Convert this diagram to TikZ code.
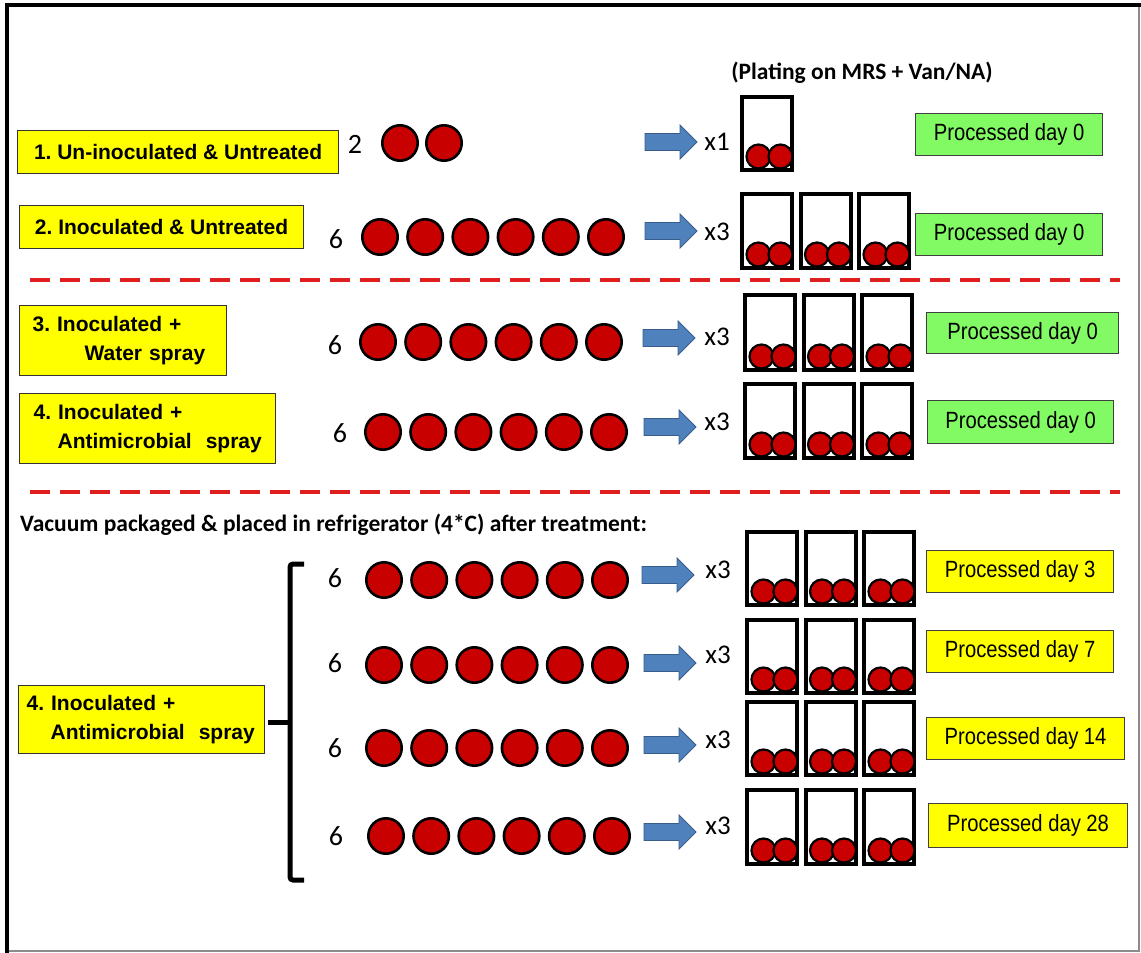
\documentclass[tikz,border=0pt]{standalone}
\usepackage{fontspec}
\setmainfont{Liberation Sans}
\newfontfamily\calfont{Carlito}
\frenchspacing
\definecolor{ylw}{RGB}{255,255,0}
\definecolor{grn}{RGB}{130,250,100}
\definecolor{cred}{RGB}{200,0,0}
\definecolor{dred}{RGB}{225,30,30}
\definecolor{ablue}{RGB}{79,129,189}
\definecolor{ablueD}{RGB}{56,93,138}
\tikzset{
  lbl/.style={draw=black!80, line width=1.2pt, fill=ylw, inner sep=0pt, anchor=north west,
    font=\fontsize{21}{29}\selectfont\bfseries},
  proc/.style={draw=black!75, line width=1.2pt, inner sep=0pt, anchor=north west},
  cnt/.style={font=\calfont\fontsize{28}{30}\selectfont, inner sep=0pt},
  xlab/.style={font=\calfont\fontsize{27}{30}\selectfont, inner sep=0pt},
  hdr/.style={font=\calfont\bfseries\fontsize{23.5}{26}\selectfont, inner sep=0pt},
  sample/.style={fill=cred, draw=black, line width=2.6pt},
  platebox/.style={draw=black, line width=4pt},
  sep/.style={draw=dred, line width=4.5pt, dash pattern=on 20pt off 10pt},
  blockarrow/.style={fill=ablue, draw=ablueD, line width=0.8pt},
}
\newcommand{\proctext}[1]{\scalebox{0.86}[1]{\fontsize{23.5}{26}\selectfont #1}}
% block arrow: left end x, centre y
\newcommand{\blockarr}[2]{%
  \filldraw[blockarrow] (#1,#2-8.5) -- (#1+35,#2-8.5) -- (#1+35,#2-17) -- (#1+52,#2)
    -- (#1+35,#2+17) -- (#1+35,#2+8.5) -- (#1,#2+8.5) -- cycle;}
% one plate: left x, top y, bottom y
\newcommand{\oneplate}[3]{%
  \draw[platebox] (#1+2,#2+2) rectangle (#1+52,#3-2);
  \draw[fill=cred, draw=black, line width=2.2pt] (#1+18.5,#3-15.5) circle (12);
  \draw[fill=cred, draw=black, line width=2.2pt] (#1+40.5,#3-15.5) circle (12);}
% three plates: first left x, top y, bottom y
\newcommand{\threeplates}[3]{%
  \oneplate{#1}{#2}{#3}\oneplate{#1+58.5}{#2}{#3}\oneplate{#1+117}{#2}{#3}}
% six samples: first centre x, y
\newcommand{\sixsamples}[2]{%
  \foreach \i in {0,...,5}{\draw[sample] (#1+45.2*\i,#2) circle (17.7);}}
\begin{document}
\begin{tikzpicture}[x=1pt,y=-1pt]
\useasboundingbox (0,0) rectangle (1141,953);
% frame
\draw[black!45, line width=1.5pt] (1139,5) -- (1139,951) -- (7,951);
\draw[black, line width=4pt] (7,953) -- (7,5) -- (1141,5);

% header
\node[hdr] (plating) at (862,73) {(Plating on MRS + Van/NA)};

% row 1
\node[lbl, minimum width=321pt, minimum height=43pt] (g1) at (17,130) {1. Un-inoculated \& Untreated};
\node[cnt] (n1) at (355,144) {2};
\draw[sample] (400,143) circle (17.7);
\draw[sample] (444,143) circle (17.7);
\blockarr{645}{142}
\node[xlab] (x1) at (717,142) {x1};
\oneplate{740}{95}{172}
\node[proc, fill=grn, minimum width=187pt, minimum height=42pt] (p1) at (915,113) {\proctext{Processed day 0}};

% row 2
\node[lbl, minimum width=284pt, minimum height=43pt] (g2) at (19,205) {2. Inoculated \& Untreated};
\node[cnt] (n2) at (336,239) {6};
\sixsamples{380}{237}
\blockarr{645}{231}
\node[xlab] (x2) at (717,232) {x3};
\threeplates{740}{192}{270}
\node[proc, fill=grn, minimum width=187pt, minimum height=42pt] (p2) at (915,213) {\proctext{Processed day 0}};

\draw[sep] (30,280) -- (1120,280);

% row 3
\node[lbl, minimum width=207pt, minimum height=70pt, text width=181pt, align=left] (g3) at (19,305)
  {\mbox{3. Inoculated +}\\\mbox{\hspace*{52pt}Water spray}};
\node[cnt] (n3) at (335,345) {6};
\sixsamples{378}{342}
\blockarr{643}{338}
\node[xlab] (x3) at (717,337) {x3};
\threeplates{743}{293}{372}
\node[proc, fill=grn, minimum width=192pt, minimum height=41pt] (p3) at (926,312) {\proctext{Processed day 0}};

% row 4
\node[lbl, minimum width=256pt, minimum height=70pt, text width=228pt, align=left] (g4) at (19,393)
  {\mbox{4. Inoculated +}\\\mbox{\hspace*{24pt}Antimicrobial\ \ spray}};
\node[cnt] (n4) at (340,433) {6};
\sixsamples{383}{432}
\blockarr{644}{427}
\node[xlab] (x4) at (717,422) {x3};
\threeplates{743}{382}{460}
\node[proc, fill=grn, minimum width=186pt, minimum height=43pt] (p4) at (927,400) {\proctext{Processed day 0}};

\draw[sep] (30,492) -- (1120,492);

% storage block
\node[hdr, anchor=west] (vac) at (20,525) {Vacuum packaged \& placed in refrigerator (4*C) after treatment:};
\node[lbl, minimum width=246pt, minimum height=68pt, text width=230pt, align=left] (g5) at (18,685)
  {\mbox{4. Inoculated +}\\\mbox{\hspace*{24pt}Antimicrobial\ \ spray}};
\coordinate (bt) at (304,564);
\coordinate (bb) at (304,880);
\coordinate (bm) at (290,722);
\coordinate (bl) at (268,722);
\draw[line width=5pt, rounded corners=3pt] (bt) -- (290,564) -- (290,880) -- (bb);
\draw[line width=5pt] (bl) -- (bm);

% row 5
\node[cnt] (n5) at (335,578) {6};
\sixsamples{384}{580}
\blockarr{642}{575}
\node[xlab] (x5) at (718,570) {x3};
\threeplates{745}{530}{607}
\node[proc, fill=ylw, minimum width=187pt, minimum height=42pt] (p5) at (926,550) {\proctext{Processed day 3}};

% row 6
\node[cnt] (n6) at (335,663) {6};
\sixsamples{384}{665}
\blockarr{644}{663}
\node[xlab] (x6) at (718,655) {x3};
\threeplates{745}{618}{695}
\node[proc, fill=ylw, minimum width=187pt, minimum height=42pt] (p6) at (926,630) {\proctext{Processed day 7}};

% row 7
\node[cnt] (n7) at (335,748) {6};
\sixsamples{384}{748}
\blockarr{644}{745}
\node[xlab] (x7) at (718,740) {x3};
\threeplates{745}{700}{777}
\node[proc, fill=ylw, minimum width=198pt, minimum height=42pt] (p7) at (926,717) {\proctext{Processed day 14}};

% row 8
\node[cnt] (n8) at (336,836) {6};
\sixsamples{386}{836}
\blockarr{644}{832}
\node[xlab] (x8) at (718,826) {x3};
\threeplates{745}{788}{866}
\node[proc, fill=ylw, minimum width=199pt, minimum height=44pt] (p8) at (928,803) {\proctext{Processed day 28}};
\end{tikzpicture}
\end{document}
